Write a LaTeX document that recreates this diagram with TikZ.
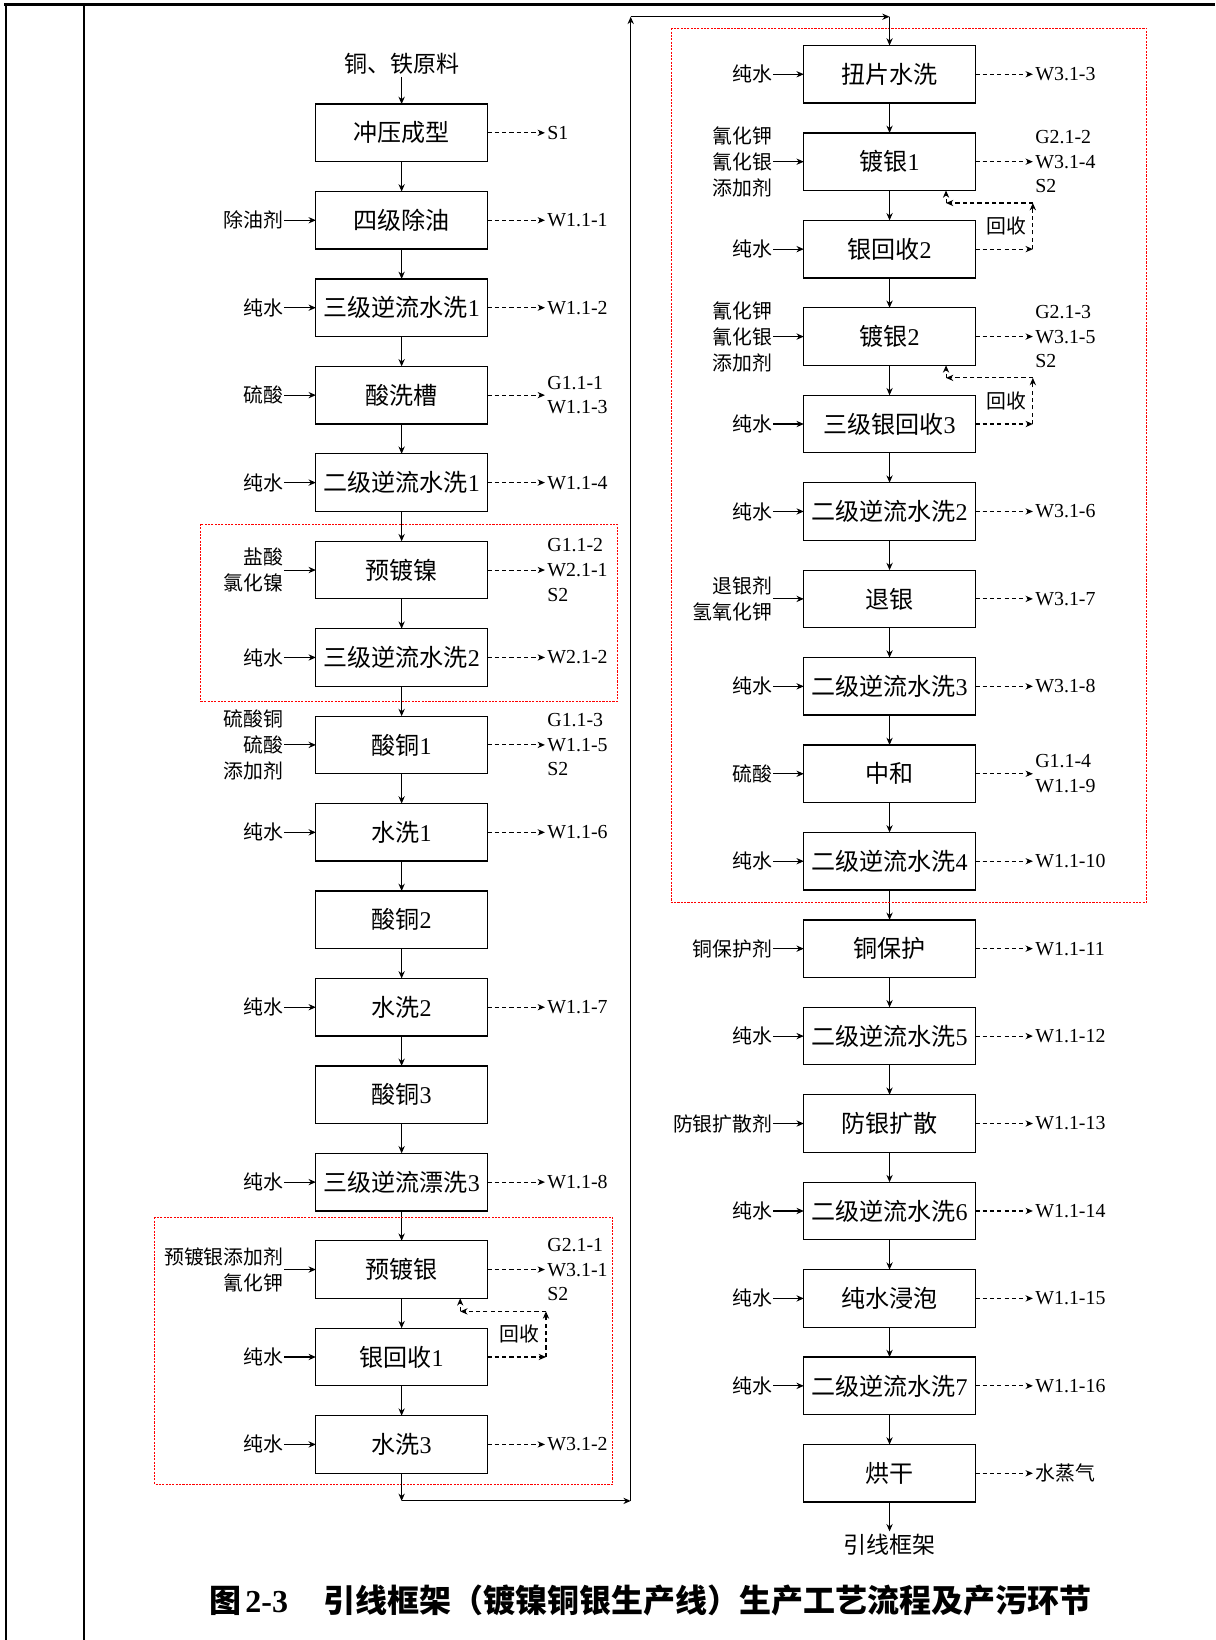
\documentclass[tikz,border=0pt]{standalone}
\usepackage{fontspec}
\setmainfont{Liberation Serif}
\newfontfamily\cjk{Noto Sans CJK SC}
\usetikzlibrary{calc,arrows.meta,positioning}
\newcommand\lat[1]{{\rmfamily #1}}

\begin{document}
\begin{tikzpicture}[
  proc/.style={rectangle, draw, line width=0.6pt, minimum width=82pt, minimum height=27.5pt, inner sep=1pt, outer sep=0pt, font=\cjk\fontsize{11.5}{13}\selectfont},
  inlab/.style={inner sep=0.3pt, align=right, font=\cjk\fontsize{9.5}{12.5}\selectfont},
  outlab/.style={inner sep=1pt, align=left, font=\fontsize{9.5}{11.75}\selectfont},
  endlab/.style={inner sep=1pt, font=\cjk\fontsize{11}{13}\selectfont},
  flow/.style={-{Stealth[length=3.5pt,width=3pt]}, line width=0.5pt},
  waste/.style={flow, dash pattern=on 2pt off 1.5pt},
  redbox/.style={draw=red, line width=0.4pt, dash pattern=on 1pt off 0.6pt},
  node distance=14.3pt
]
\useasboundingbox (0,0) rectangle (581pt,-784pt);

% page frame
\draw[line width=1.5pt] (2pt,-2pt) -- (581pt,-2pt);
\draw[line width=1pt] (3pt,-2pt) -- (3pt,-784pt);
\draw[line width=1pt] (40pt,-2pt) -- (40pt,-784pt);

% left line
\node[proc] (a1) at (192pt,-63.5pt) {冲压成型};
\node[proc, below=of a1] (a2) {四级除油};
\node[proc, below=of a2] (a3) {三级逆流水洗\lat{1}};
\node[proc, below=of a3] (a4) {酸洗槽};
\node[proc, below=of a4] (a5) {二级逆流水洗\lat{1}};
\node[proc, below=of a5] (a6) {预镀镍};
\node[proc, below=of a6] (a7) {三级逆流水洗\lat{2}};
\node[proc, below=of a7] (a8) {酸铜\lat{1}};
\node[proc, below=of a8] (a9) {水洗\lat{1}};
\node[proc, below=of a9] (a10) {酸铜\lat{2}};
\node[proc, below=of a10] (a11) {水洗\lat{2}};
\node[proc, below=of a11] (a12) {酸铜\lat{3}};
\node[proc, below=of a12] (a13) {三级逆流漂洗\lat{3}};
\node[proc, below=of a13] (a14) {预镀银};
\node[proc, below=of a14] (a15) {银回收\lat{1}};
\node[proc, below=of a15] (a16) {水洗\lat{3}};

\node[endlab, above=13pt of a1] (src) {铜、铁原料};
\draw[flow] (src) -- (a1);
\foreach \i [count=\j from 2] in {1,...,15}
  \draw[flow] (a\i) -- (a\j);

% left inputs
\node[inlab, left=15pt of a2] (ia2) {除油剂};
\node[inlab, left=15pt of a3] (ia3) {纯水};
\node[inlab, left=15pt of a4] (ia4) {硫酸};
\node[inlab, left=15pt of a5] (ia5) {纯水};
\node[inlab, left=15pt of a6] (ia6) {盐酸\\氯化镍};
\node[inlab, left=15pt of a7] (ia7) {纯水};
\node[inlab, left=15pt of a8] (ia8) {硫酸铜\\硫酸\\添加剂};
\node[inlab, left=15pt of a9] (ia9) {纯水};
\node[inlab, left=15pt of a11] (ia11) {纯水};
\node[inlab, left=15pt of a13] (ia13) {纯水};
\node[inlab, left=15pt of a14] (ia14) {预镀银添加剂\\氰化钾};
\node[inlab, left=15pt of a15] (ia15) {纯水};
\node[inlab, left=15pt of a16] (ia16) {纯水};
\foreach \i in {2,...,9,11,13,14,15,16}
  \draw[flow] (ia\i) -- (a\i);

% left outputs
\node[outlab, right=27.5pt of a1] (oa1) {S1};
\node[outlab, right=27.5pt of a2] (oa2) {W1.1-1};
\node[outlab, right=27.5pt of a3] (oa3) {W1.1-2};
\node[outlab, right=27.5pt of a4] (oa4) {G1.1-1\\W1.1-3};
\node[outlab, right=27.5pt of a5] (oa5) {W1.1-4};
\node[outlab, right=27.5pt of a6] (oa6) {G1.1-2\\W2.1-1\\S2};
\node[outlab, right=27.5pt of a7] (oa7) {W2.1-2};
\node[outlab, right=27.5pt of a8] (oa8) {G1.1-3\\W1.1-5\\S2};
\node[outlab, right=27.5pt of a9] (oa9) {W1.1-6};
\node[outlab, right=27.5pt of a11] (oa11) {W1.1-7};
\node[outlab, right=27.5pt of a13] (oa13) {W1.1-8};
\node[outlab, right=27.5pt of a14] (oa14) {G2.1-1\\W3.1-1\\S2};
\node[outlab, right=27.5pt of a16] (oa16) {W3.1-2};
\foreach \i in {1,...,9,11,13,14,16}
  \draw[waste] (a\i) -- (oa\i);

% silver recovery 1
\coordinate[right=28pt of a15] (h1a);
\coordinate (h1b) at ($(a14.south east)+(28pt,-6.25pt)$);
\coordinate (h1c) at ($(a14.south east)+(-13pt,-6.25pt)$);
\coordinate (h1d) at ($(a14.south east)+(-13pt,0)$);
\draw[waste] (a15) -- (h1a);
\draw[waste] (h1a) -- node[inlab, left, inner sep=3pt] (hs1) {回收} (h1b);
\draw[waste] (h1b) -- (h1c);
\draw[waste] (h1c) -- (h1d);

\draw[redbox] ($(a6.north west)+(-55pt,8.25pt)$) rectangle ($(a7.south east)+(62pt,-7.25pt)$);
\draw[redbox] ($(a14.north west)+(-77pt,11.25pt)$) rectangle ($(a16.south east)+(60pt,-5.25pt)$);

% right line
\node[proc] (b1) at (425.25pt,-35.5pt) {扭片水洗};
\node[proc, below=of b1] (b2) {镀银\lat{1}};
\node[proc, below=of b2] (b3) {银回收\lat{2}};
\node[proc, below=of b3] (b4) {镀银\lat{2}};
\node[proc, below=of b4] (b5) {三级银回收\lat{3}};
\node[proc, below=of b5] (b6) {二级逆流水洗\lat{2}};
\node[proc, below=of b6] (b7) {退银};
\node[proc, below=of b7] (b8) {二级逆流水洗\lat{3}};
\node[proc, below=of b8] (b9) {中和};
\node[proc, below=of b9] (b10) {二级逆流水洗\lat{4}};
\node[proc, below=of b10] (b11) {铜保护};
\node[proc, below=of b11] (b12) {二级逆流水洗\lat{5}};
\node[proc, below=of b12] (b13) {防银扩散};
\node[proc, below=of b13] (b14) {二级逆流水洗\lat{6}};
\node[proc, below=of b14] (b15) {纯水浸泡};
\node[proc, below=of b15] (b16) {二级逆流水洗\lat{7}};
\node[proc, below=of b16] (b17) {烘干};

\node[endlab, below=14pt of b17] (prod) {引线框架};
\draw[flow] (b17) -- (prod);
\foreach \i [count=\j from 2] in {1,...,16}
  \draw[flow] (b\i) -- (b\j);

% right inputs
\node[inlab, left=14.5pt of b1] (ib1) {纯水};
\node[inlab, left=14.5pt of b2] (ib2) {氰化钾\\氰化银\\添加剂};
\node[inlab, left=14.5pt of b3] (ib3) {纯水};
\node[inlab, left=14.5pt of b4] (ib4) {氰化钾\\氰化银\\添加剂};
\node[inlab, left=14.5pt of b5] (ib5) {纯水};
\node[inlab, left=14.5pt of b6] (ib6) {纯水};
\node[inlab, left=14.5pt of b7] (ib7) {退银剂\\氢氧化钾};
\node[inlab, left=14.5pt of b8] (ib8) {纯水};
\node[inlab, left=14.5pt of b9] (ib9) {硫酸};
\node[inlab, left=14.5pt of b10] (ib10) {纯水};
\node[inlab, left=14.5pt of b11] (ib11) {铜保护剂};
\node[inlab, left=14.5pt of b12] (ib12) {纯水};
\node[inlab, left=14.5pt of b13] (ib13) {防银扩散剂};
\node[inlab, left=14.5pt of b14] (ib14) {纯水};
\node[inlab, left=14.5pt of b15] (ib15) {纯水};
\node[inlab, left=14.5pt of b16] (ib16) {纯水};
\foreach \i in {1,...,16}
  \draw[flow] (ib\i) -- (b\i);

% right outputs
\node[outlab, right=27.5pt of b1] (ob1) {W3.1-3};
\node[outlab, right=27.5pt of b2] (ob2) {G2.1-2\\W3.1-4\\S2};
\node[outlab, right=27.5pt of b4] (ob4) {G2.1-3\\W3.1-5\\S2};
\node[outlab, right=27.5pt of b6] (ob6) {W3.1-6};
\node[outlab, right=27.5pt of b7] (ob7) {W3.1-7};
\node[outlab, right=27.5pt of b8] (ob8) {W3.1-8};
\node[outlab, right=27.5pt of b9] (ob9) {G1.1-4\\W1.1-9};
\node[outlab, right=27.5pt of b10] (ob10) {W1.1-10};
\node[outlab, right=27.5pt of b11] (ob11) {W1.1-11};
\node[outlab, right=27.5pt of b12] (ob12) {W1.1-12};
\node[outlab, right=27.5pt of b13] (ob13) {W1.1-13};
\node[outlab, right=27.5pt of b14] (ob14) {W1.1-14};
\node[outlab, right=27.5pt of b15] (ob15) {W1.1-15};
\node[outlab, right=27.5pt of b16] (ob16) {W1.1-16};
\node[outlab, right=27.5pt of b17] (ob17) {\cjk 水蒸气};
\foreach \i in {1,2,4,6,7,...,17}
  \draw[waste] (b\i) -- (ob\i);

% silver recovery 2 and 3
\foreach \u/\v [count=\k from 2] in {b2/b3,b4/b5} {
  \coordinate[right=27.5pt of \v] (h\k a);
  \coordinate (h\k b) at ($(\u.south east)+(27.5pt,-6pt)$);
  \coordinate (h\k c) at ($(\u.south east)+(-14pt,-6pt)$);
  \coordinate (h\k d) at ($(\u.south east)+(-14pt,0)$);
  \draw[waste] (\v) -- (h\k a);
  \draw[waste] (h\k a) -- node[inlab, left, inner sep=3pt] {回收} (h\k b);
  \draw[waste] (h\k b) -- (h\k c);
  \draw[waste] (h\k c) -- (h\k d);
}

\draw[redbox] ($(b1.north west)+(-63.5pt,8.25pt)$) rectangle ($(b10.south east)+(82pt,-5.75pt)$);

% link between the two lines
\coordinate[below=13.25pt of a16] (lb);
\coordinate (rt) at (301.5pt,-8pt);
\coordinate (rb) at (lb -| rt);
\coordinate (tb) at (rt -| b1);
\draw[flow] (a16) -- (lb);
\draw[flow] (lb) -- (rb);
\draw[flow] (rb) -- (rt);
\draw[flow] (rt) -- (tb);
\draw[flow] (tb) -- (b1);

\node[font=\cjk\bfseries\fontsize{15.3}{18}\selectfont] (title) at (311pt,-765pt)
  {图\hspace{2pt}\lat{\bfseries 2-3}\hspace{17pt}引线框架（镀镍铜银生产线）生产工艺流程及产污环节};
\end{tikzpicture}
\end{document}
